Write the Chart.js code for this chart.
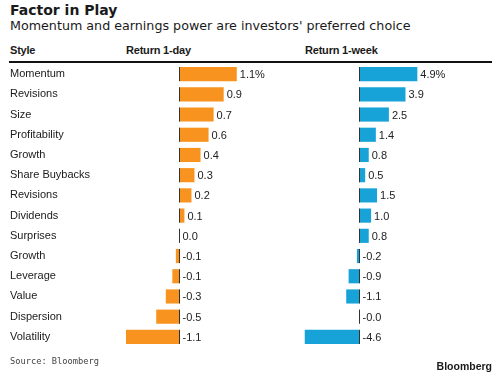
<!DOCTYPE html>
<html>
<head>
<meta charset="utf-8">
<script src="https://cdn.jsdelivr.net/npm/chart.js@4.4.1/dist/chart.umd.min.js"></script>
<style>
body { margin: 0; background: #fff; }
#wrap { position: relative; width: 500px; height: 376px; overflow: hidden; font-family: 'Liberation Sans', Arial, sans-serif; color: #1a1a1a; }
.t { position: absolute; white-space: nowrap; }
#title { left: 10px; top: 2px; font: bold 14px 'DejaVu Sans', sans-serif; }
#sub { left: 10px; top: 18px; font: 12.7px 'DejaVu Sans', sans-serif; }
.hd { top: 44px; font-weight: bold; font-size: 11px; letter-spacing: -0.2px; }
#rule { position: absolute; left: 9px; top: 61px; width: 483px; height: 2px; background: #111; }
#src { left: 10px; top: 356px; font: 8.7px 'DejaVu Sans Mono', monospace; color: #444; }
#logo { right: 8px; top: 360px; font-weight: bold; font-size: 10.5px; }
canvas { position: absolute; top: 64px; left: 0; }
</style>
</head>
<body>
<div id="wrap">
  <div class="t" id="title">Factor in Play</div>
  <div class="t" id="sub">Momentum and earnings power are investors' preferred choice</div>
  <div class="t hd" style="left:10px">Style</div>
  <div class="t hd" style="left:126px">Return 1-day</div>
  <div class="t hd" style="left:305px">Return 1-week</div>
  <div id="rule"></div>
  <canvas id="dayChart" width="270" height="283"></canvas>
  <canvas id="weekChart" width="460" height="283"></canvas>
  <div class="t" id="src">Source: Bloomberg</div>
  <div class="t" id="logo">Bloomberg</div>
</div>
<script>
const styles = [
    "Momentum", "Revisions", "Size", "Profitability", "Growth", "Share Buybacks", "Revisions",
    "Dividends", "Surprises", "Growth", "Leverage", "Value", "Dispersion", "Volatility",
];
// 1-day returns (%)
const returnDay = [1.14, 0.88, 0.68, 0.58, 0.42, 0.3, 0.24, 0.1, 0.0, -0.07, -0.14, -0.27, -0.46, -1.06];
// 1-week returns (%)
const returnWeek = [4.9, 3.9, 2.5, 1.4, 0.8, 0.5, 1.5, 1.0, 0.8, -0.2, -0.9, -1.1, -0.02, -4.6];

const FONT = "'Liberation Sans', Arial, sans-serif";

// zero line segment per bar + value label
const barExtras = {
    id: "barExtras",
    afterDatasetsDraw(chart) {
        const ctx = chart.ctx;
        const zero = Math.round(chart.scales.x.getPixelForValue(0)) + 0.5;
        const vals = chart.data.datasets[0].data;
        ctx.save();
        ctx.font = "11px " + FONT;
        ctx.fillStyle = "#222";
        ctx.textBaseline = "middle";
        ctx.textAlign = "left";
        chart.getDatasetMeta(0).data.forEach((bar, i) => {
            ctx.strokeStyle = "#333";
            ctx.lineWidth = 1;
            ctx.beginPath();
            ctx.moveTo(zero, bar.y - bar.height / 2);
            ctx.lineTo(zero, bar.y + bar.height / 2);
            ctx.stroke();
            const txt = vals[i].toFixed(1) + (i === 0 ? "%" : "");
            ctx.fillText(txt, Math.max(bar.x, zero) + 3, bar.y + 1);
        });
        ctx.restore();
    },
};

function makeChart(id, values, color, min, max, showLabels, padLeft) {
    return new Chart(document.getElementById(id), {
        type: "bar",
        data: {
            labels: styles,
            datasets: [{
                data: values,
                backgroundColor: color,
                categoryPercentage: 1,
                barPercentage: 0.7,
            }],
        },
        options: {
            indexAxis: "y",
            responsive: false,
            animation: false,
            layout: { padding: { left: padLeft, right: 0, top: 0, bottom: 0 } },
            plugins: { legend: { display: false }, tooltip: { enabled: false } },
            scales: {
                x: { display: false, min: min, max: max },
                y: {
                    display: showLabels,
                    grid: { display: false },
                    border: { display: false },
                    ticks: {
                        crossAlign: "far",
                        color: "#1a1a1a",
                        font: { family: FONT, size: 11 },
                    },
                    afterFit(scale) {
                        if (!showLabels) return;
                        scale.width = 114;
                        // labels sit at category centres, no extra room needed
                        scale.paddingTop = 0;
                        scale.paddingBottom = 0;
                    },
                },
            },
        },
        plugins: [barExtras],
    });
}

makeChart("dayChart", returnDay, "#F7931E", -1.1, 1.8, true, 10);
makeChart("weekChart", returnWeek, "#17A3D7", -5, 8.5, false, 300);
</script>
</body>
</html>
